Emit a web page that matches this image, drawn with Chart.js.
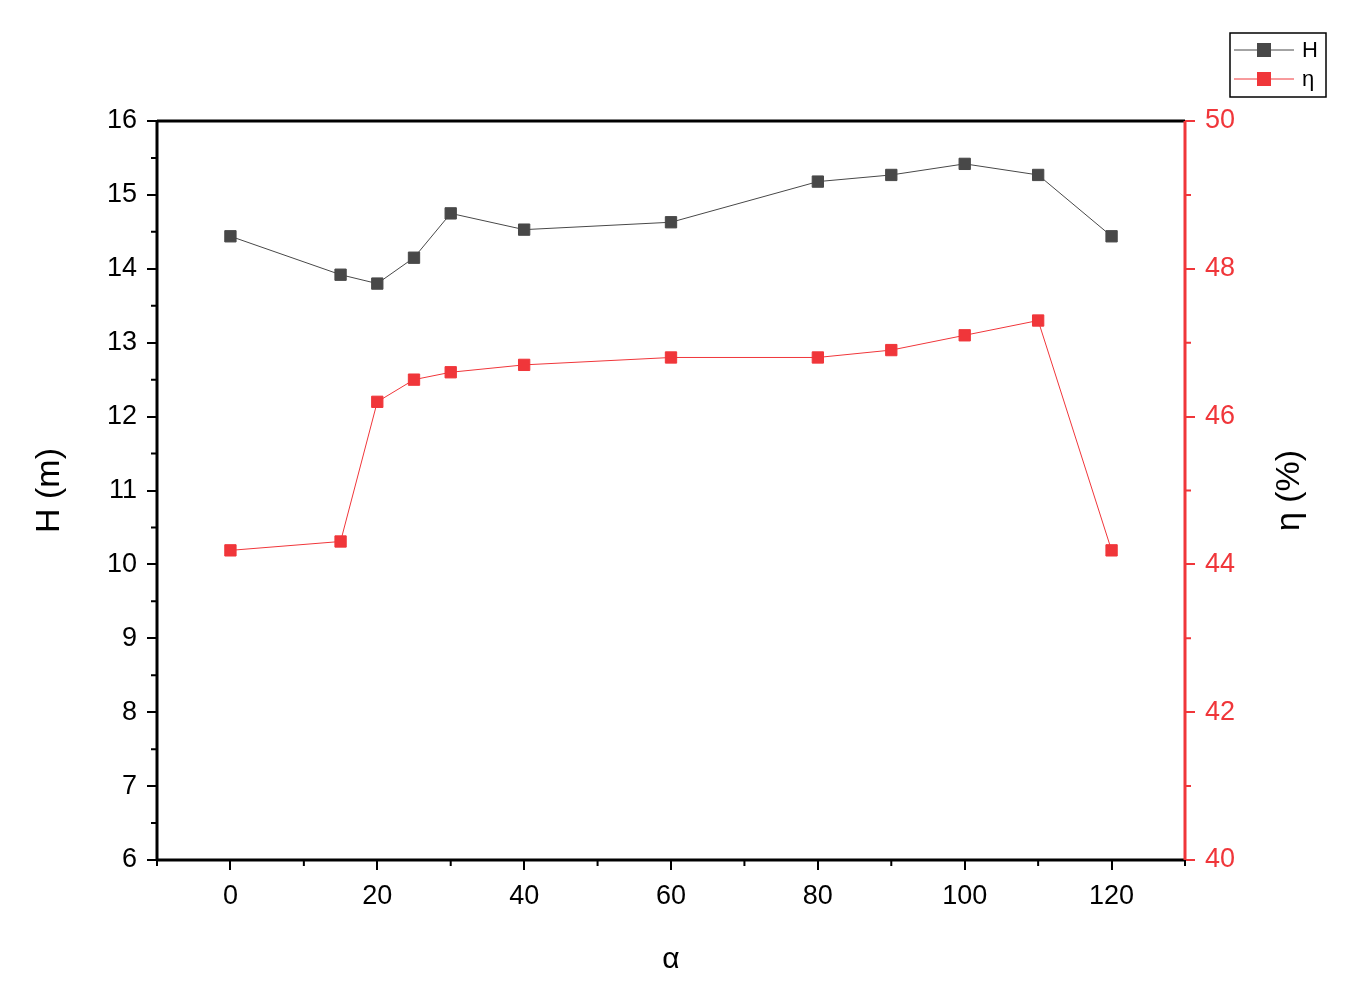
<!DOCTYPE html>
<html><head><meta charset="utf-8">
<script src="https://cdn.jsdelivr.net/npm/chart.js@4/dist/chart.umd.min.js"></script>
<style>html,body{margin:0;padding:0;background:#fff}#w{width:1354px;height:987px}</style>
</head><body><div id="w"><canvas id="c"></canvas></div>
<script>
const alpha=[0,15,20,25,30,40,60,80,90,100,110,120];
const H=[14.44,13.92,13.8,14.15,14.75,14.53,14.63,15.18,15.27,15.42,15.27,14.44];
const eta=[44.19,44.31,46.2,46.5,46.6,46.7,46.8,46.8,46.9,47.1,47.3,44.19];
const xTicks=[0,20,40,60,80,100,120];
const hTicks=[6,7,8,9,10,11,12,13,14,15,16];
const etaTicks=[40,42,44,46,48,50];
const RED='#f0363a', DARK='#484848';
const font={family:'Liberation Sans, Arial',size:27};
const frame={id:'frame',afterDraw(ch){const c=ch.ctx,a=ch.chartArea,s=ch.scales;c.save();
 c.lineWidth=3;c.strokeStyle='#000';c.beginPath();c.moveTo(a.left,a.bottom);c.lineTo(a.right,a.bottom);c.moveTo(a.left,a.top);c.lineTo(a.right,a.top);c.moveTo(a.left,a.top);c.lineTo(a.left,a.bottom);c.stroke();
 c.strokeStyle=RED;c.beginPath();c.moveTo(a.right,a.top);c.lineTo(a.right,a.bottom);c.stroke();
 c.lineWidth=2;
 c.strokeStyle='#000';c.beginPath();
 for(let v=-10;v<=130;v+=20){const x=s.x.getPixelForValue(v);c.moveTo(x,a.bottom);c.lineTo(x,a.bottom+6);}
 for(let v=6.5;v<16;v+=1){const y=s.y.getPixelForValue(v);c.moveTo(a.left,y);c.lineTo(a.left-6,y);}
 c.stroke();
 c.strokeStyle=RED;c.beginPath();
 for(let v=41;v<50;v+=2){const y=s.y2.getPixelForValue(v);c.moveTo(a.right,y);c.lineTo(a.right+6,y);}
 c.stroke();
 // axis titles
 c.fillStyle='#000';c.font='34px Liberation Sans, Arial';c.textAlign='center';c.textBaseline='middle';
 const my=(a.top+a.bottom)/2;
 [[50,'H (m)'],[1290,'η (%)']].forEach(([x,t])=>{c.save();c.translate(x,my);c.rotate(-Math.PI/2);c.fillText(t,0,0);c.restore();});
 c.font='30px Liberation Sans, Arial';c.fillText('α',(a.left+a.right)/2+0,960);
 // legend
 c.textAlign='left';
 c.lineWidth=1.5;c.strokeStyle='#000';c.strokeRect(1230,33,96,64);
 [[DARK,'H',50],[RED,'η',79]].forEach(([col,t,y])=>{c.strokeStyle=col;c.lineWidth=1;c.beginPath();c.moveTo(1234,y);c.lineTo(1294,y);c.stroke();c.fillStyle=col;c.fillRect(1257,y-7,14,14);c.fillStyle='#000';c.font='22px Liberation Sans, Arial';c.textBaseline='middle';c.fillText(t,1302,y+1);});
 c.restore();}};
new Chart(document.getElementById('c'),{type:'line',
data:{datasets:[
 {label:'H',data:alpha.map((x,i)=>({x,y:H[i]})),yAxisID:'y',borderColor:DARK,backgroundColor:DARK,borderWidth:1,pointStyle:'rect',pointRadius:8,pointHoverRadius:8},
 {label:'η',data:alpha.map((x,i)=>({x,y:eta[i]})),yAxisID:'y2',borderColor:RED,backgroundColor:RED,borderWidth:1,pointStyle:'rect',pointRadius:8,pointHoverRadius:8}]},
options:{responsive:true,maintainAspectRatio:false,animation:false,
 layout:{padding:{top:121,right:0,left:0,bottom:0}},
 plugins:{legend:{display:false},tooltip:{enabled:false}},
 scales:{
  x:{type:'linear',min:-10,max:130,afterBuildTicks:s=>{s.ticks=xTicks.map(v=>({value:v}))},
   afterFit:s=>{s.height=127},border:{display:false},
   grid:{drawOnChartArea:false,tickLength:10,color:'#000',lineWidth:2},
   ticks:{color:'#000',font,padding:10,maxRotation:0}},
  y:{position:'left',min:6,max:16,afterBuildTicks:s=>{s.ticks=hTicks.map(v=>({value:v}))},
   afterFit:s=>{s.width=157},border:{display:false},
   grid:{drawOnChartArea:false,tickLength:10,color:'#000',lineWidth:2},
   ticks:{color:'#000',font,padding:10}},
  y2:{position:'right',min:40,max:50,afterBuildTicks:s=>{s.ticks=etaTicks.map(v=>({value:v}))},
   afterFit:s=>{s.width=169},border:{display:false},
   grid:{drawOnChartArea:false,tickLength:10,color:RED,lineWidth:2},
   ticks:{color:RED,font,padding:10}}
 }},plugins:[frame]});
</script></body></html>
